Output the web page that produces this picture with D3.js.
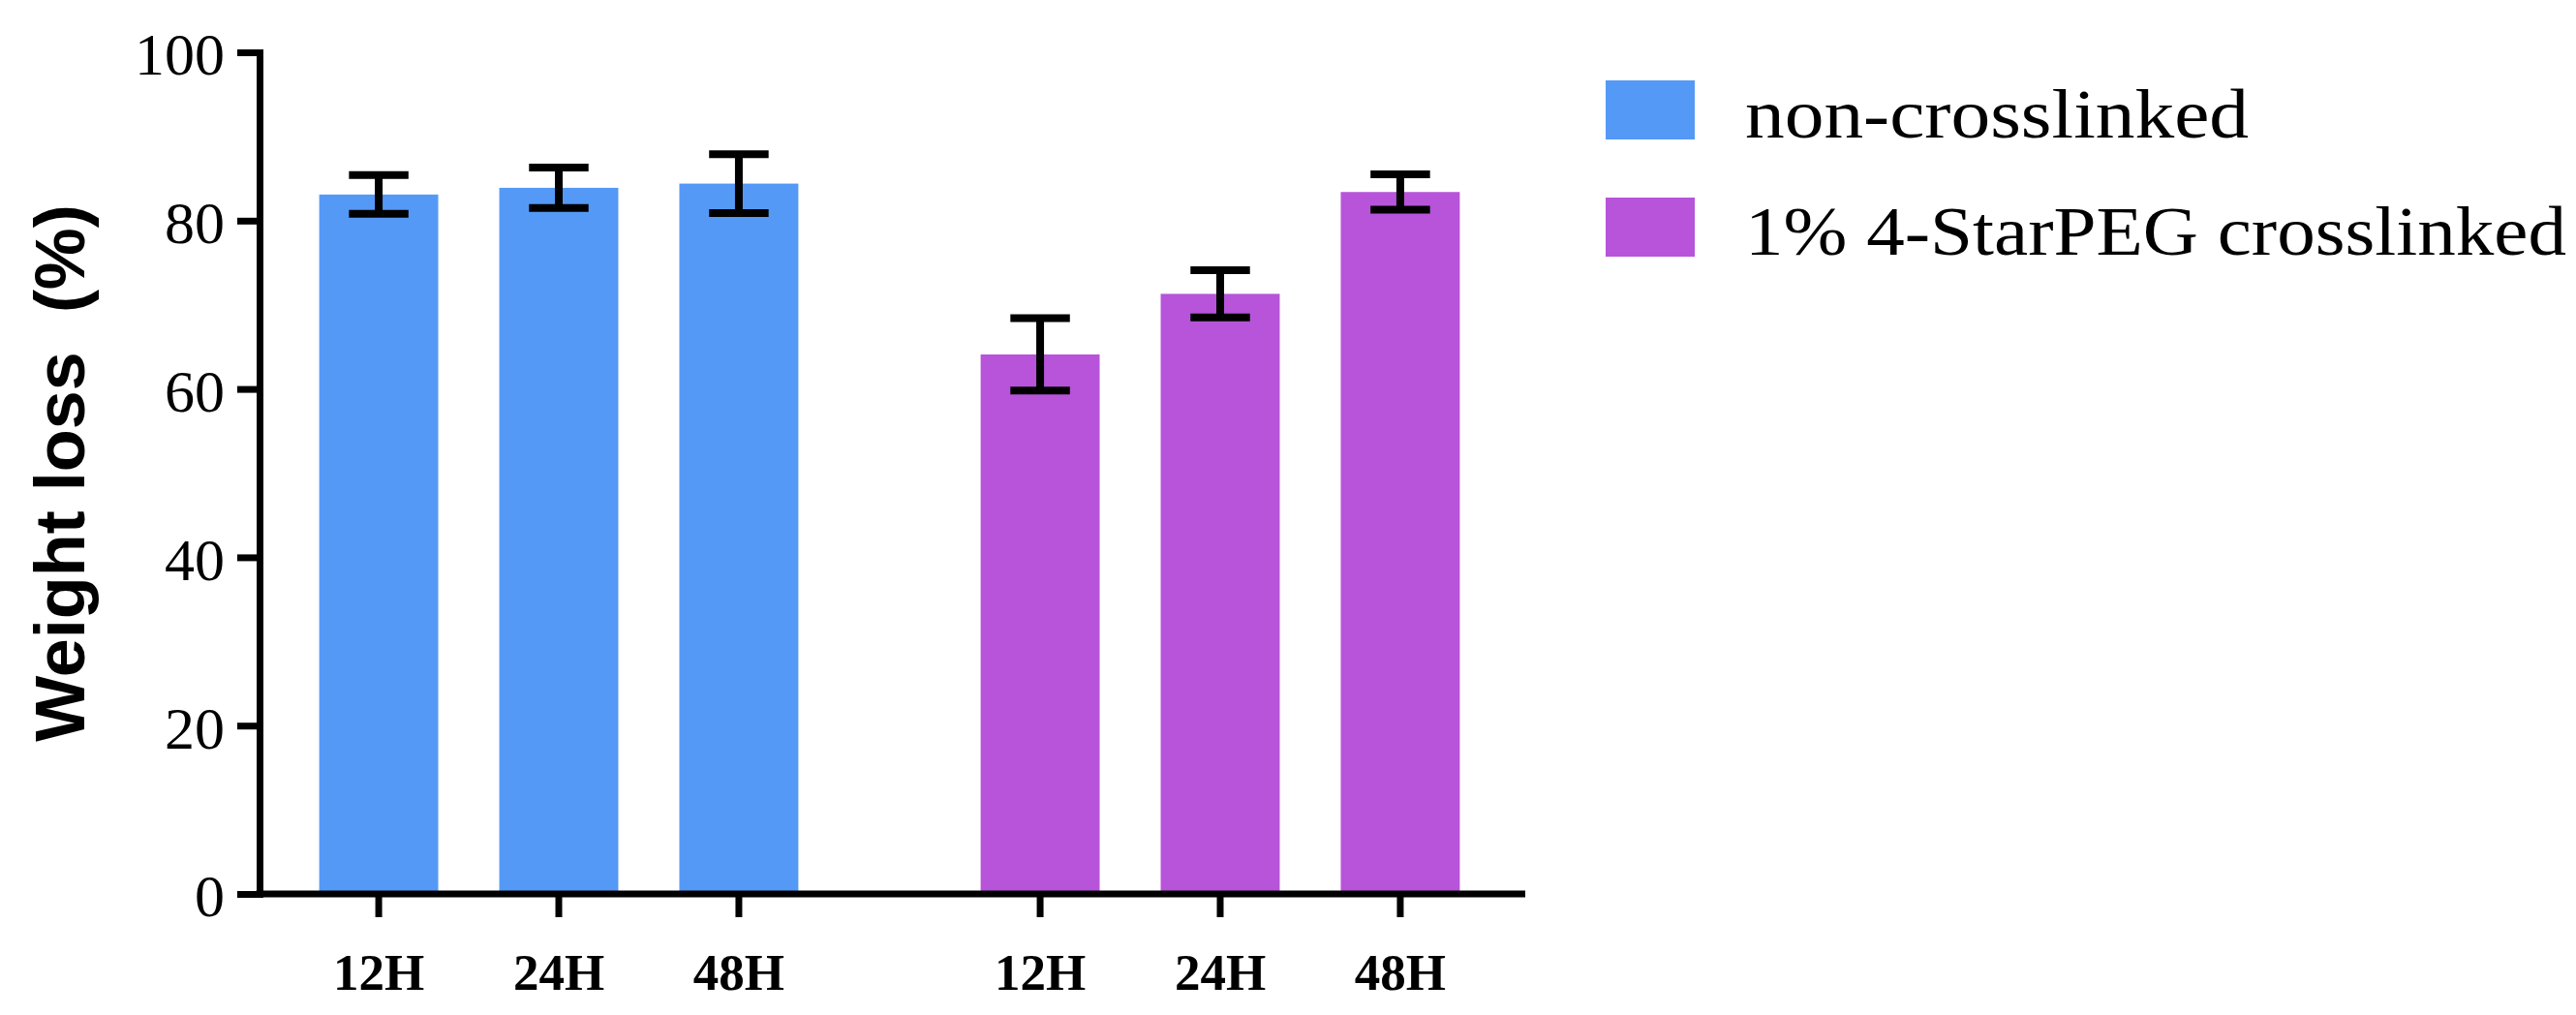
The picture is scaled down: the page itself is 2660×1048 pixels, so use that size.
<!DOCTYPE html>
<html>
<head>
<meta charset="utf-8">
<style>
  body { margin: 0; background: #fff; }
  svg { display: block; }
</style>
</head>
<body>
<svg></svg>
<script src="https://d3js.org/d3.v7.min.js"></script>
<script>
// data
const groups = ["non-crosslinked", "1% 4-StarPEG crosslinked"];
const times = ["12H", "24H", "48H"];
const meanNon = [83.1, 83.9, 84.4];
const errNon = [2.3, 2.4, 3.5];
const meanPeg = [64.1, 71.3, 83.4];
const errPeg = [4.3, 2.8, 2.1];
const yTicks = [0, 20, 40, 60, 80, 100];
const colors = ["#5599f7", "#b754d9"];

const width = 2660, height = 1048;
const svg = d3.select("svg").attr("width", width).attr("height", height);

const axisLeftX = 268, axisRightX = 1575;

const y = d3.scaleLinear().domain([0, 100]).range([923, 54]);
const x0 = d3.scaleBand().domain(groups).range([298, 1539]).paddingInner(0.183);
const x1 = d3.scaleBand().domain(times).range([0, x0.bandwidth()])
  .paddingInner(0.339).paddingOuter(0.17);

const rows = [];
groups.forEach((g, i) => {
  const means = i ? meanPeg : meanNon;
  const errs = i ? errPeg : errNon;
  times.forEach((t, j) => rows.push({ g, i, t, mean: means[j], err: errs[j] }));
});

// bars
svg.append("g").selectAll("rect")
  .data(rows)
  .join("rect")
  .attr("x", d => x0(d.g) + x1(d.t))
  .attr("y", d => y(d.mean))
  .attr("width", x1.bandwidth())
  .attr("height", d => y(0) - y(d.mean))
  .attr("fill", d => colors[d.i]);

// error bars
const capHalf = x1.bandwidth() * 0.25;
const eb = svg.append("g").attr("stroke", "#000").attr("stroke-width", 8)
  .selectAll("g").data(rows).join("g")
  .attr("transform", d => `translate(${x0(d.g) + x1(d.t) + x1.bandwidth() / 2},0)`);
eb.append("line")
  .attr("y1", d => y(d.mean - d.err)).attr("y2", d => y(d.mean + d.err));
eb.append("line")
  .attr("x1", -capHalf).attr("x2", capHalf)
  .attr("y1", d => y(d.mean + d.err)).attr("y2", d => y(d.mean + d.err));
eb.append("line")
  .attr("x1", -capHalf).attr("x2", capHalf)
  .attr("y1", d => y(d.mean - d.err)).attr("y2", d => y(d.mean - d.err));

// y axis
const yAxis = svg.append("g")
  .attr("transform", `translate(${axisLeftX},0)`)
  .call(d3.axisLeft(y).tickValues(yTicks).tickSize(23).tickSizeOuter(0).tickPadding(13));
yAxis.select(".domain").attr("stroke-width", 7).attr("stroke-linecap", "square");
yAxis.selectAll(".tick line").attr("stroke-width", 7);
yAxis.selectAll(".tick text")
  .attr("dy", "0.37em")
  .style("font-family", "'Liberation Serif', serif")
  .style("font-size", "62px")
  .attr("fill", "#000");

// x axis baseline
svg.append("line")
  .attr("x1", axisLeftX - 3.5).attr("x2", axisRightX)
  .attr("y1", y(0)).attr("y2", y(0))
  .attr("stroke", "#000").attr("stroke-width", 7);

// x ticks per group
groups.forEach(g => {
  const ax = svg.append("g")
    .attr("transform", `translate(${x0(g)},${y(0)})`)
    .call(d3.axisBottom(x1).tickSize(24).tickSizeOuter(0).tickPadding(37));
  ax.select(".domain").remove();
  ax.selectAll(".tick line").attr("stroke-width", 7);
  ax.selectAll(".tick text")
    .style("font-family", "'Liberation Serif', serif")
    .style("font-weight", "bold")
    .style("font-size", "53px")
    .attr("fill", "#000");
});

// y label
svg.append("text")
  .attr("transform", `translate(87,${(y(0) + y(100)) / 2 + 0})rotate(-90)`)
  .attr("text-anchor", "middle")
  .style("font-family", "'Liberation Sans', Arial, sans-serif")
  .style("font-weight", "bold")
  .style("font-size", "72px")
  .text("Weight loss \u00a0(%)");

// legend
const legendW = [520, 848];
const legend = svg.append("g").selectAll("g")
  .data(groups).join("g")
  .attr("transform", (d, i) => `translate(1658,${83 + i * 121})`);
legend.append("rect")
  .attr("width", 92).attr("height", 61)
  .attr("fill", (d, i) => colors[i]);
legend.append("text")
  .attr("x", 144).attr("y", 59)
  .attr("textLength", (d, i) => legendW[i])
  .attr("lengthAdjust", "spacingAndGlyphs")
  .style("font-family", "'Liberation Serif', serif")
  .style("font-size", "72px")
  .text(d => d);
</script>
</body>
</html>
